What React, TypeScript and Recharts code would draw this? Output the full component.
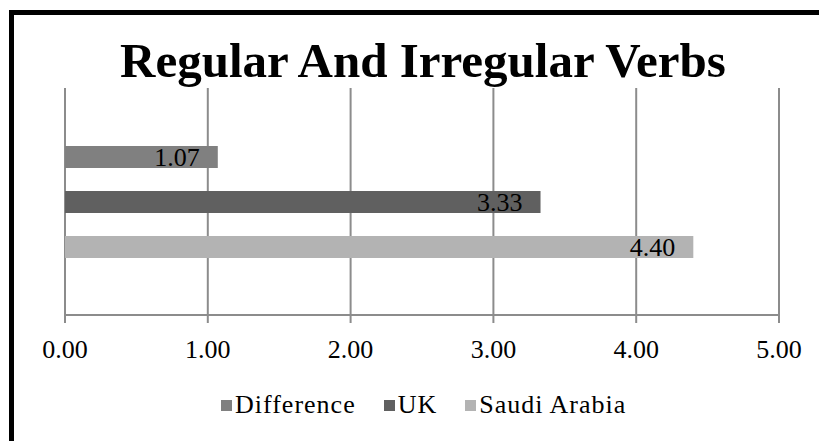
import React from 'react';
import { BarChart, Bar, XAxis, YAxis, CartesianGrid, LabelList } from 'recharts';

const categories = ['Regular And Irregular Verbs'];
const differenceValues = [1.07];
const ukValues = [3.33];
const saudiValues = [4.4];
const xTicks = [0, 1, 2, 3, 4, 5];

const seriesNames = ['Difference', 'UK', 'Saudi Arabia'];
const seriesKeys = ['difference', 'uk', 'saudi'];
const seriesColors = ['#808080', '#606060', '#b3b3b3'];

const data = categories.map((c, i) => ({
  name: c,
  difference: differenceValues[i],
  uk: ukValues[i],
  saudi: saudiValues[i],
}));

const SERIF = '"Liberation Serif", "Times New Roman", serif';
const GRID = '#8c8c8c';

export default function App() {
  return (
    <div style={{ position: 'absolute', left: 0, top: 0, width: 819, height: 441, overflow: 'hidden', background: '#fff' }}>
      <div
        style={{
          position: 'absolute',
          left: 9,
          top: 10,
          width: 900,
          height: 600,
          border: '5px solid #000',
          boxSizing: 'border-box',
        }}
      />
      <div
        style={{
          position: 'absolute',
          left: 0,
          top: 36,
          width: 846,
          textAlign: 'center',
          fontFamily: SERIF,
          fontWeight: 'bold',
          fontSize: 49,
          lineHeight: '49px',
          color: '#000',
          whiteSpace: 'nowrap',
        }}
      >
        Regular And Irregular Verbs
      </div>
      <div style={{ position: 'absolute', left: 0, top: 0 }}>
        <BarChart
          width={819}
          height={441}
          data={data}
          layout="vertical"
          margin={{ top: 88, right: 40, bottom: 66, left: 65 }}
          barSize={22}
          barGap={23}
        >
          <CartesianGrid horizontal={false} stroke={GRID} strokeWidth={2} />
          <XAxis
            type="number"
            domain={[0, 5]}
            ticks={xTicks}
            interval={0}
            tickFormatter={(v: number) => v.toFixed(2)}
            axisLine={{ stroke: GRID, strokeWidth: 2 }}
            tickLine={{ stroke: GRID, strokeWidth: 2 }}
            tickSize={8}
            tickMargin={17}
            tick={{ fill: '#000', fontSize: 26, fontFamily: SERIF }}
            height={60}
          />
          <YAxis type="category" dataKey="name" hide width={0} />
          {seriesKeys.map((k, i) => (
            <Bar key={k} dataKey={k} name={seriesNames[i]} fill={seriesColors[i]} isAnimationActive={false}>
              <LabelList
                dataKey={k}
                position="insideRight"
                offset={18}
                formatter={(v: number) => v.toFixed(2)}
                style={{ fill: '#000', fontSize: 26, fontFamily: SERIF }}
              />
            </Bar>
          ))}
        </BarChart>
      </div>
      <div
        style={{
          position: 'absolute',
          left: 221,
          top: 392,
          display: 'flex',
          alignItems: 'center',
          whiteSpace: 'nowrap',
          color: '#000',
        }}
      >
        {seriesNames.map((n, i) => (
          <div key={n} style={{ display: 'flex', alignItems: 'center', marginRight: 28 }}>
            <span style={{ display: 'inline-block', width: 11, height: 11, background: seriesColors[i], marginRight: 3 }} />
            <span style={{ fontFamily: SERIF, fontSize: 26, lineHeight: '26px', letterSpacing: 1 }}>{n}</span>
          </div>
        ))}
      </div>
    </div>
  );
}
